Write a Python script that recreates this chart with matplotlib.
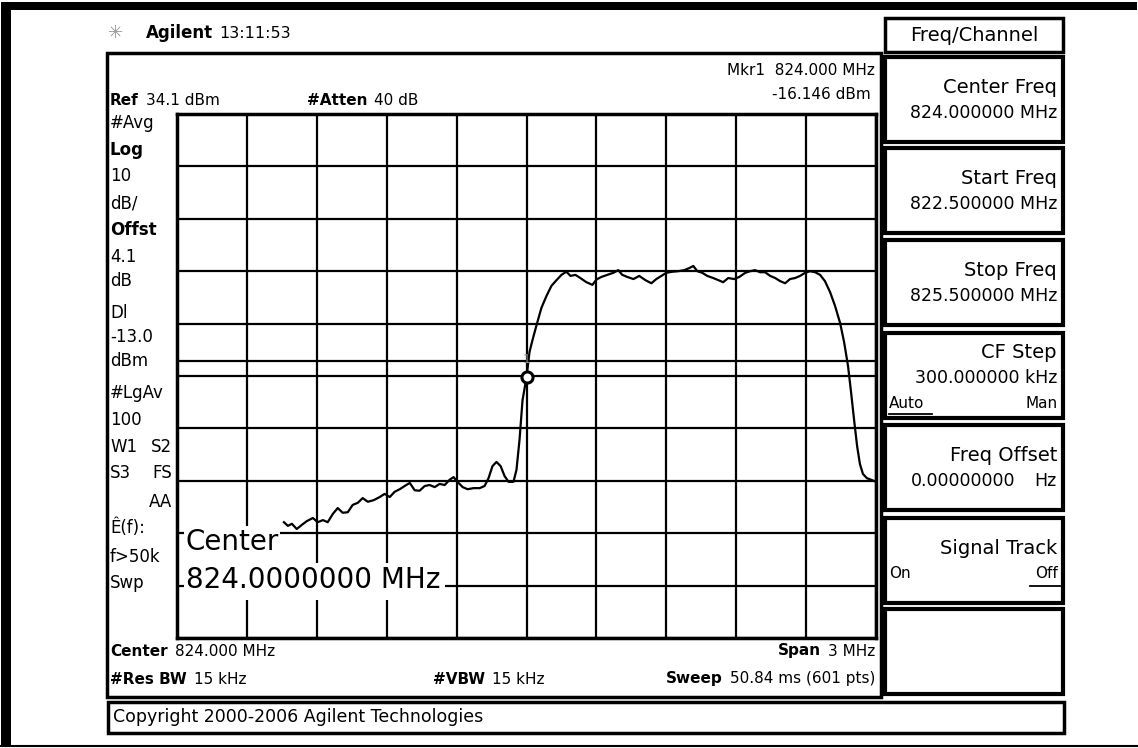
import numpy as np
import matplotlib.pyplot as plt
from matplotlib.patches import Rectangle

# trace (MHz, dBm)
freq_mhz = [822.959, 822.976, 822.993, 823.014, 823.036, 823.057, 823.083, 823.104,
            823.126, 823.147, 823.169, 823.190, 823.211, 823.233, 823.254, 823.276,
            823.297, 823.319, 823.344, 823.370, 823.391, 823.413, 823.434, 823.456,
            823.477, 823.499, 823.520, 823.541, 823.563, 823.584, 823.606, 823.627,
            823.649, 823.670, 823.687, 823.704, 823.726, 823.747, 823.773, 823.799,
            823.820, 823.837, 823.854, 823.871, 823.889, 823.906, 823.923, 823.944,
            823.957, 823.970, 823.983, 824.000, 824.013, 824.026, 824.043, 824.064,
            824.086, 824.107, 824.129, 824.150, 824.171, 824.189, 824.210, 824.231,
            824.257, 824.283, 824.300, 824.321, 824.347, 824.373, 824.394, 824.411,
            824.433, 824.459, 824.484, 824.510, 824.536, 824.557, 824.579, 824.600,
            824.626, 824.651, 824.677, 824.699, 824.716, 824.733, 824.754, 824.776,
            824.801, 824.823, 824.844, 824.866, 824.891, 824.913, 824.939, 824.960,
            824.981, 825.003, 825.024, 825.046, 825.067, 825.089, 825.110, 825.131,
            825.153, 825.174, 825.196, 825.217, 825.239, 825.260, 825.281, 825.303,
            825.324, 825.346, 825.363, 825.380, 825.393, 825.406, 825.419, 825.431,
            825.444, 825.461, 825.479, 825.500]
level_dbm = [-43.8, -44.5, -44.1, -45.1, -44.3, -43.6, -43.0, -43.8,
             -43.4, -43.8, -42.2, -41.1, -42.0, -41.9, -40.5, -40.1,
             -39.2, -39.9, -39.6, -39.0, -38.4, -39.0, -38.0, -37.5,
             -36.9, -36.3, -37.7, -37.8, -36.9, -36.7, -37.1, -36.5,
             -36.7, -35.7, -35.2, -36.1, -37.1, -37.5, -37.3, -37.3,
             -36.9, -35.4, -33.1, -32.3, -33.1, -35.0, -36.1, -36.1,
             -33.8, -28.1, -20.5, -16.146, -11.3, -9.0, -6.2, -2.9,
             -0.6, 1.3, 2.4, 3.4, 4.0, 3.2, 3.4, 2.8,
             2.0, 1.5, 2.5, 3.0, 3.4, 3.8, 4.3, 3.4,
             3.0, 2.6, 3.2, 2.4, 1.8, 2.6, 3.2, 3.8,
             4.0, 4.1, 4.3, 4.7, 5.1, 4.1, 3.8, 3.2,
             2.8, 2.4, 2.0, 2.8, 2.6, 3.0, 3.8, 4.1,
             4.3, 3.9, 3.9, 3.2, 2.8, 2.2, 1.8, 2.6,
             2.8, 3.2, 3.8, 4.1, 3.9, 3.4, 2.2, 0.1,
             -2.5, -5.8, -9.4, -14.0, -19.0, -24.3, -29.3, -32.7,
             -34.6, -35.4, -35.7, -36.1]

ref_level = 34.1
db_per_div = 10
start_freq = 822.5
stop_freq = 825.5
display_line = -13.0
marker_freq = 824.000
marker_level = -16.146

softkeys = [("Center Freq", "824.000000 MHz"),
            ("Start Freq", "822.500000 MHz"),
            ("Stop Freq", "825.500000 MHz"),
            ("CF Step", "300.000000 kHz"),
            ("Freq Offset", "0.00000000"),
            ("Signal Track", "")]

left_labels = [("#Avg", 123, "normal"), ("Log", 150, "bold"), ("10", 176, "normal"),
               ("dB/", 203, "normal"), ("Offst", 230, "bold"), ("4.1", 257, "normal"),
               ("dB", 281, "normal"), ("Dl", 313, "normal"), ("-13.0", 337, "normal"),
               ("dBm", 361, "normal"), ("#LgAv", 393, "normal"), ("100", 420, "normal"),
               ("W1", 447, "normal"), ("S3", 473, "normal"), ("Ê(f):", 528, "normal"),
               ("f>50k", 557, "normal"), ("Swp", 583, "normal")]

W, H = 1138, 748
fig = plt.figure(figsize=(W / 100, H / 100), dpi=100)
renderer = fig.canvas.get_renderer()

bg = fig.add_axes([0, 0, 1, 1])
bg.set_xlim(0, W)
bg.set_ylim(H, 0)
bg.axis('off')


def box(x0, y0, x1, y1, lw=2.5):
    bg.add_patch(Rectangle((x0, y0), x1 - x0, y1 - y0, fill=False, lw=lw, ec='black'))


def txt(x, y, s, size=12, weight='normal', ha='left', color='black', on=None):
    return (on or bg).text(x, y, s, fontsize=size, fontweight=weight, ha=ha, va='center',
                           color=color, family='DejaVu Sans')


def width_px(t):
    return t.get_window_extent(renderer).width


def pair_left(x, y, bold, regular, gap=7):
    t = txt(x, y, bold, size=11, weight='bold')
    txt(x + width_px(t) + gap, y, regular, size=11)


def pair_right(x, y, bold, regular, gap=7):
    t = txt(x, y, regular, size=11, ha='right')
    txt(x - width_px(t) - gap, y, bold, size=11, weight='bold', ha='right')


# outer frame
bg.add_patch(Rectangle((1, 2), 10, 745, color='black', lw=0))
bg.add_patch(Rectangle((1, 2), 1136, 8, color='black', lw=0))
bg.plot([1, 1137], [746, 746], color='black', lw=1.5)

# header
txt(108, 33, "\u2733", size=13, color='#999999')
hdr = txt(146, 33, "Agilent", size=12, weight='bold')
txt(146 + width_px(hdr) + 6, 33, "13:11:53", size=11.5)

# display and softkey boxes
box(107, 53, 881, 697, lw=2.5)
box(108, 702, 1064, 733, lw=2.5)
box(885, 18, 1063, 52, lw=2.5)
tops = [57, 148, 240, 333, 425, 518, 609]
for t in tops:
    box(885, t, 1063, t + 85, lw=3)
txt(974, 35, "Freq/Channel", size=14, ha='center')
for (title, value), t in zip(softkeys, tops):
    dy = -11 if title == "CF Step" else 0
    txt(1057, t + 30 + dy, title, size=14, ha='right')
    if value:
        txt(1057 if title != "Freq Offset" else 1015, t + 56 + dy, value, size=12.5, ha='right')
txt(1057, 481, "Hz", size=12.5, ha='right')
txt(889, 403, "Auto", size=11)
txt(1058, 403, "Man", size=11, ha='right')
bg.plot([889, 932], [414, 414], color='black', lw=1.3)
txt(889, 574, "On", size=11)
txt(1058, 574, "Off", size=11, ha='right')
bg.plot([1030, 1060], [586, 586], color='black', lw=1.3)
txt(113, 717, "Copyright 2000-2006 Agilent Technologies", size=12.5)

# annotations inside the display
pair_left(110, 100, "Ref", "34.1 dBm")
pair_left(307, 100, "#Atten", "40 dB")
txt(875, 70, "Mkr1  824.000 MHz", size=11, ha='right')
txt(871, 94, "-16.146 dBm", size=11, ha='right')
for s, y, w in left_labels:
    txt(110, y, s, size=12, weight=w)
txt(172, 447, "S2", size=12, ha='right')
txt(172, 473, "FS", size=12, ha='right')
txt(172, 502, "AA", size=12, ha='right')
pair_left(110, 651, "Center", "824.000 MHz")
pair_left(110, 679, "#Res BW", "15 kHz")
pair_left(433, 679, "#VBW", "15 kHz")
pair_right(875, 651, "Span", "3 MHz")
pair_right(875, 679, "Sweep", "50.84 ms (601 pts)")

# graticule
ax = fig.add_axes([177 / W, (H - 638) / H, 699 / W, 524 / H], zorder=1)
ax.set_xlim(start_freq, stop_freq)
ax.set_ylim(ref_level - 10 * db_per_div, ref_level)
ax.set_xticks(np.linspace(start_freq, stop_freq, 11))
ax.set_yticks(ref_level - db_per_div * np.arange(11))
ax.grid(True, color='black', lw=1.6)
ax.tick_params(length=0, labelbottom=False, labelleft=False)
for sp in ax.spines.values():
    sp.set_linewidth(2.5)
ax.axhline(display_line, color='black', lw=1.6)
ax.plot(freq_mhz, level_dbm, color='black', lw=1.6)
ax.plot(marker_freq, marker_level, 'o', ms=8, mfc='white', mec='black', mew=2.2)
ax.text(marker_freq, marker_level + 3.4, "1", ha='center', va='center', fontsize=9, color='#888888')

# overlay for the centre frequency entry
top = fig.add_axes([0, 0, 1, 1], zorder=3)
top.set_xlim(0, W)
top.set_ylim(H, 0)
top.axis('off')
top.patch.set_alpha(0)
top.add_patch(Rectangle((184, 526), 96, 38, color='white', lw=0))
top.add_patch(Rectangle((184, 563), 261, 37, color='white', lw=0))
txt(186, 542, "Center", size=20, on=top)
txt(186, 580, "824.0000000 MHz", size=20, on=top)

fig.savefig("out.png", dpi=100)
